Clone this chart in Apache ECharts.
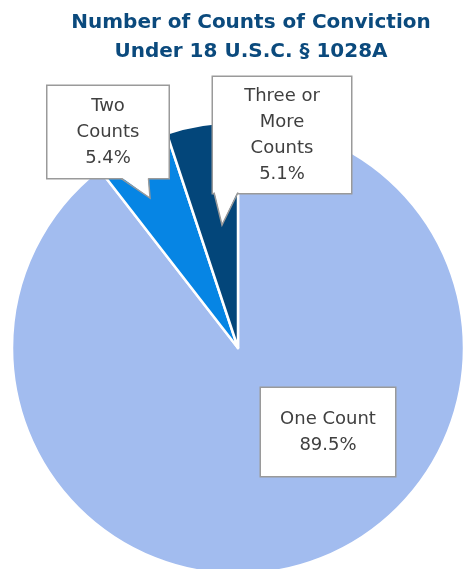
<!DOCTYPE html>
<html>
<head>
<meta charset="utf-8">
<script src="https://cdn.jsdelivr.net/npm/echarts@6/dist/echarts.min.js"></script>
<style>
html,body{margin:0;padding:0;background:#fff;}
#chart{width:465px;height:569px;}
</style>
</head>
<body>
<div id="chart"></div>
<script>
const categories = ['One Count', 'Two\nCounts', 'Three or\nMore\nCounts'];
const shares = [89.5, 5.4, 5.1];
const colors = ['#a2bcef', '#0685e4', '#03467a'];

const labelCenters = [[328, 432], [108, 132], [282, 135]];
const labelBoxes = [
  {w: 124, pv: 18},
  {w: 111, pv: 7},
  {w: 128, pv: 6}
];

const chart = echarts.init(document.getElementById('chart'));
chart.setOption({
  backgroundColor: '#ffffff',
  animation: false,
  title: {
    text: 'Number of Counts of Conviction\nUnder 18 U.S.C. § 1028A',
    left: 246,
    textAlign: 'center',
    top: 3,
    textStyle: {
      fontFamily: 'DejaVu Sans',
      fontWeight: 'bold',
      fontSize: 20,
      lineHeight: 29,
      color: '#0b4a7d'
    }
  },
  graphic: [
    {type: 'polygon', z: 100, shape: {points: [[121, 177], [148, 177], [150, 198]]},
     style: {fill: '#ffffff', stroke: 'none'}},
    {type: 'polyline', z: 101, shape: {points: [[121, 178.5], [150, 198], [148.5, 178.5]]},
     style: {stroke: '#9a9a9a', lineWidth: 1.5, fill: 'none'}},
    {type: 'polygon', z: 100, shape: {points: [[214, 191], [238, 191], [222, 225]]},
     style: {fill: '#ffffff', stroke: 'none'}},
    {type: 'polyline', z: 101, shape: {points: [[214, 192.5], [222, 225], [238, 192.5]]},
     style: {stroke: '#9a9a9a', lineWidth: 1.5, fill: 'none'}}
  ],
  series: [{
    type: 'pie',
    center: [238, 348],
    radius: 226,
    startAngle: 90,
    clockwise: true,
    avoidLabelOverlap: false,
    itemStyle: {borderColor: '#ffffff', borderWidth: 2.5},
    labelLine: {show: false},
    label: {
      show: true,
      position: 'outside',
      fontFamily: 'DejaVu Sans',
      fontSize: 18,
      lineHeight: 26,
      color: '#404040',
      backgroundColor: '#ffffff',
      borderColor: '#9a9a9a',
      borderWidth: 1.5,
      align: 'center',
      formatter: function (p) { return p.name + '\n' + p.value.toFixed(1) + '%'; }
    },
    labelLayout: function (params) {
      const c = labelCenters[params.dataIndex];
      return {x: c[0], y: c[1], align: 'center', verticalAlign: 'middle'};
    },
    data: categories.map(function (name, i) {
      return {
        name: name,
        value: shares[i],
        itemStyle: {color: colors[i]},
        label: {width: labelBoxes[i].w, padding: [labelBoxes[i].pv, 5]}
      };
    })
  }]
});
</script>
</body>
</html>
